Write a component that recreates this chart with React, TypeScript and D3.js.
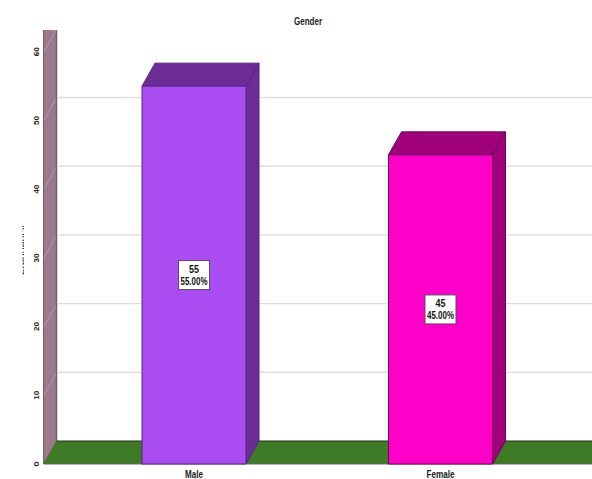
import React from "react";
import * as d3 from "d3";

const title = "Gender";
const axisTitle = "Frequency";
const categories = ["Male", "Female"];
const counts = [55, 45];
const percents = ["55.00%", "45.00%"];
const tickValues = [0, 10, 20, 30, 40, 50, 60];
const gridValues = [10, 20, 30, 40, 50];
const faceColors = ["#A94CF2", "#FF00C8"];
const shadeColors = ["#6B2C97", "#A0007C"];
const edgeColors = ["#562580", "#6E0056"];

const W = 592;
const H = 479;
const DEPTH_X = 13;
const DEPTH_Y = -23;
const AXIS_X = 43.5;
const BAR_HALF = 52;
const CLIP_TOP = 30;
const SANS = "'Liberation Sans', Arial, sans-serif";

const y = d3.scaleLinear().domain([0, 60]).range([464, 51.8]);
const x = d3.scalePoint<string>().domain(categories).range([194, 440.5]);

const poly = (pts: [number, number][]) => d3.line()(pts) + "Z";

function Squeezed(props: { x: number; y: number; w: number; size?: number; bold?: boolean; children: string; rotate?: boolean; fill?: string }) {
  const { x: px, y: py, w, size = 10, bold = false, children, rotate = false, fill = "#111" } = props;
  return (
    <text
      transform={`translate(${px},${py})${rotate ? " rotate(-90)" : ""}`}
      textAnchor="middle"
      textLength={w}
      lengthAdjust="spacingAndGlyphs"
      fontFamily={SANS}
      fontSize={size}
      fontWeight={bold ? 700 : 400}
      fill={fill}
    >
      {children}
    </text>
  );
}

export default function App() {
  const floorY = y(0);
  const backX = AXIS_X + DEPTH_X;
  const backY = floorY + DEPTH_Y;
  return (
    <svg width={W} height={H} style={{ position: "absolute", left: 0, top: 0, background: "#fff" }}>
      <defs>
        <clipPath id="plot-clip">
          <rect x={0} y={CLIP_TOP} width={W} height={H - CLIP_TOP} />
        </clipPath>
        <clipPath id="axis-title-clip">
          <rect x={22.4} y={200} width={1.6} height={100} />
        </clipPath>
      </defs>

      <Squeezed x={308} y={25} w={28} size={11} bold fill="#222">{title}</Squeezed>

      <g clipPath="url(#plot-clip)">
        {/* side wall */}
        <path
          d={poly([[AXIS_X, floorY], [backX, backY], [backX, 0], [AXIS_X, 0]])}
          fill="#9C7A8C"
          stroke="#6A5F68"
          strokeWidth={1}
        />
        <line x1={backX} x2={backX} y1={0} y2={backY} stroke="#6A6468" strokeWidth={1.5} />
        {tickValues.slice(1).map((t) => (
          <line key={t} x1={AXIS_X + 0.5} y1={y(t)} x2={backX - 1} y2={y(t) + DEPTH_Y + 2} stroke="#B9A2AE" strokeWidth={0.8} />
        ))}

        {/* back wall gridlines */}
        {gridValues.map((t) => (
          <line key={t} x1={backX + 0.8} x2={W} y1={y(t) + DEPTH_Y} y2={y(t) + DEPTH_Y} stroke="#DDDDDD" strokeWidth={1.4} />
        ))}

        {/* floor */}
        <path
          d={poly([[AXIS_X, floorY], [backX, backY], [W + 20, backY], [W + 20, floorY]])}
          fill="#3F7A26"
        />
        <line x1={backX} x2={W} y1={backY} y2={backY} stroke="#22331A" strokeWidth={1} />
        <line x1={AXIS_X} x2={W} y1={floorY} y2={floorY} stroke="#666" strokeWidth={1} />

        {/* 3D bars */}
        {categories.map((c, i) => {
          const cx = x(c) as number;
          const l = cx - BAR_HALF;
          const r = cx + BAR_HALF;
          const top = y(counts[i]);
          return (
            <g key={c} stroke={edgeColors[i]} strokeWidth={1} strokeLinejoin="round">
              <path
                d={poly([[l, top], [l + DEPTH_X, top + DEPTH_Y], [r + DEPTH_X, top + DEPTH_Y], [r, top]])}
                fill={shadeColors[i]}
              />
              <path
                d={poly([[r, top], [r + DEPTH_X, top + DEPTH_Y], [r + DEPTH_X, floorY + DEPTH_Y], [r, floorY]])}
                fill={shadeColors[i]}
              />
              <rect x={l} y={top} width={r - l} height={floorY - top} fill={faceColors[i]} />
            </g>
          );
        })}
      </g>

      {/* value boxes centred on each bar */}
      {categories.map((c, i) => {
        const cx = x(c) as number;
        const cy = (y(counts[i]) + floorY) / 2;
        return (
          <g key={c}>
            <rect x={cx - 15.5} y={cy - 14.5} width={31} height={29} fill="#fff" stroke="#5A4A66" strokeWidth={1} />
            <Squeezed x={cx} y={cy - 2} w={10} size={11} bold>{String(counts[i])}</Squeezed>
            <Squeezed x={cx} y={cy + 10} w={27} size={11} bold>{percents[i]}</Squeezed>
          </g>
        );
      })}

      {/* value axis */}
      {tickValues.map((t) => (
        <Squeezed key={t} x={38.5} y={y(t)} w={t === 0 ? 5 : 9} size={8} bold rotate fill="#222">{String(t)}</Squeezed>
      ))}
      <g clipPath="url(#axis-title-clip)">
        <Squeezed x={26} y={250} w={50} size={9} rotate fill="#333">{axisTitle}</Squeezed>
      </g>

      {/* category labels */}
      {categories.map((c, i) => (
        <Squeezed key={c} x={x(c) as number} y={478} w={i === 0 ? 18 : 28} size={10} bold fill="#222">{c}</Squeezed>
      ))}
    </svg>
  );
}
